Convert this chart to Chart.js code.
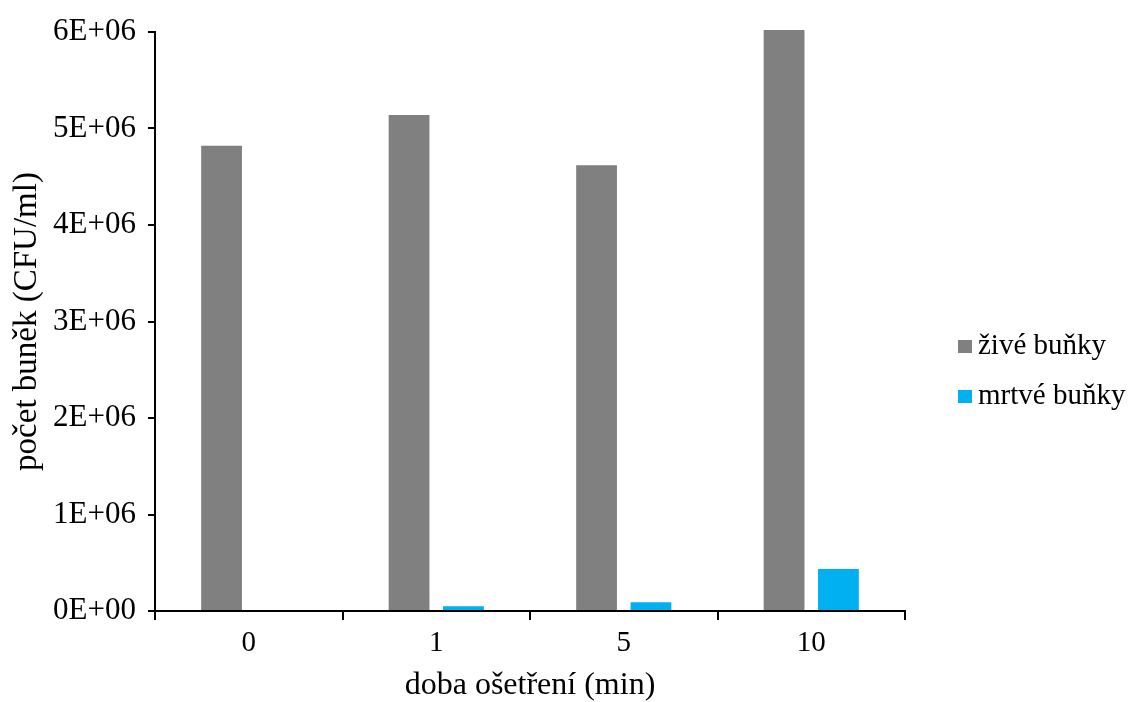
<!DOCTYPE html>
<html>
<head>
<meta charset="utf-8">
<script src="https://cdn.jsdelivr.net/npm/chart.js@4"></script>
<style>
  html, body { margin: 0; padding: 0; background: #fff; }
  #wrap { width: 1133px; height: 702px; }
</style>
</head>
<body>
<div id="wrap"><canvas id="chart" width="1133" height="702"></canvas></div>
<script>
// doba ošetření (min)
const categories = ['0', '1', '5', '10'];
// počet buněk (CFU/ml)
const liveCells = [4.82e6, 5.14e6, 4.62e6, 6.02e6];
const deadCells = [0, 0.05e6, 0.09e6, 0.435e6];

const FONT = "'Liberation Serif', 'Times New Roman', serif";

// Excel-like scientific labels: 6E+06, 0E+00
function sci(v) {
  const parts = Number(v).toExponential(0).split('e');
  const exp = parts[1];
  return parts[0] + 'E' + exp[0] + exp.slice(1).padStart(2, '0');
}

// legend drawn to the right of the plot, Excel style
const sideLegend = {
  id: 'sideLegend',
  afterDraw(chart) {
    const ctx = chart.ctx;
    const area = chart.chartArea;
    const x = area.right + 53;
    const ys = [346, 396];
    ctx.save();
    ctx.font = '29px ' + FONT;
    ctx.textBaseline = 'middle';
    chart.data.datasets.forEach((ds, i) => {
      ctx.fillStyle = ds.backgroundColor;
      ctx.fillRect(x, ys[i] - 6, 14, 13);
      ctx.fillStyle = '#000';
      ctx.fillText(ds.label, x + 20, ys[i]);
    });
    ctx.restore();
  }
};

new Chart(document.getElementById('chart'), {
  type: 'bar',
  data: {
    labels: categories,
    datasets: [
      {
        label: 'živé buňky',
        data: liveCells,
        backgroundColor: '#808080',
        categoryPercentage: 0.58,
        barPercentage: 0.75,
        clip: false
      },
      {
        label: 'mrtvé buňky',
        data: deadCells,
        backgroundColor: '#00B0F0',
        categoryPercentage: 0.58,
        barPercentage: 0.75,
        clip: false
      }
    ]
  },
  options: {
    responsive: false,
    animation: false,
    layout: { padding: { top: 32, right: 228, bottom: 0, left: 0 } },
    plugins: {
      legend: { display: false },
      tooltip: { enabled: false }
    },
    scales: {
      x: {
        afterFit(scale) { scale.height = 91; },
        grid: {
          offset: true,
          drawOnChartArea: false,
          drawTicks: true,
          tickLength: 9,
          color: '#000',
          lineWidth: 2
        },
        border: { display: true, color: '#000', width: 2 },
        ticks: {
          color: '#000',
          font: { family: FONT, size: 29 },
          padding: 6,
          maxRotation: 0
        },
        title: {
          display: true,
          text: 'doba ošetření (min)',
          color: '#000',
          font: { family: FONT, size: 32, lineHeight: 1 },
          padding: { top: 0, bottom: 0 }
        }
      },
      y: {
        min: 0,
        max: 6e6,
        afterFit(scale) { scale.width = 155; },
        grid: {
          drawOnChartArea: false,
          drawTicks: true,
          tickLength: 7,
          color: '#000',
          lineWidth: 2
        },
        border: { display: true, color: '#000', width: 2 },
        ticks: {
          stepSize: 1e6,
          color: '#000',
          font: { family: FONT, size: 31 },
          padding: 12,
          callback: (v) => sci(v)
        },
        title: {
          display: true,
          text: 'počet buněk (CFU/ml)',
          color: '#000',
          font: { family: FONT, size: 33, lineHeight: 1 },
          padding: { top: 11, bottom: 0 }
        }
      }
    }
  },
  plugins: [sideLegend]
});
</script>
</body>
</html>
